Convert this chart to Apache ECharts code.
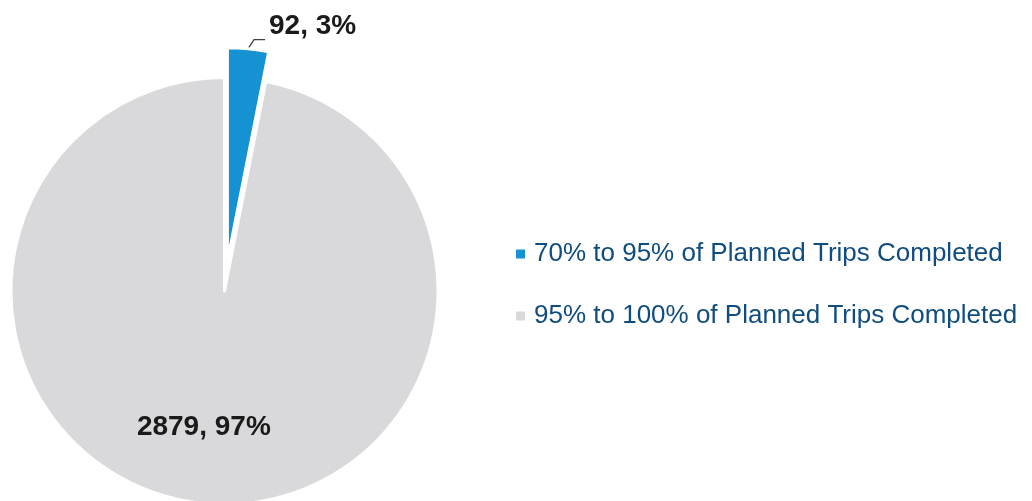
<!DOCTYPE html>
<html>
<head>
<meta charset="utf-8">
<script src="https://cdn.jsdelivr.net/npm/echarts@6/dist/echarts.min.js"></script>
<style>
  html, body { margin: 0; padding: 0; background: #ffffff; }
  #chart { width: 1032px; height: 501px; }
</style>
</head>
<body>
<div id="chart"></div>
<script>
// Trip completion buckets and the number of trips in each
const categories = [
  '70% to 95% of Planned Trips Completed',
  '95% to 100% of Planned Trips Completed'
];
const tripCounts = [92, 2879];
const sliceColors = ['#1592d1', '#d9d9db'];

const FONT = '"Liberation Sans", Arial, Helvetica, sans-serif';

const chart = echarts.init(document.getElementById('chart'), null, { renderer: 'canvas' });

const pieData = categories.map((name, i) => ({
  name: name,
  value: tripCounts[i],
  selected: i === 0,
  itemStyle: { color: sliceColors[i] },
  label: i === 0
    ? { position: 'outside' }
    : { position: 'inside', offset: [-10, 27] },
  labelLine: { show: i === 0 }
}));

chart.setOption({
  animation: false,
  backgroundColor: '#ffffff',
  legend: {
    orient: 'vertical',
    left: 511,
    top: 236,
    icon: 'rect',
    itemWidth: 9,
    itemHeight: 9,
    itemGap: 36,
    selectedMode: false,
    itemStyle: { borderWidth: 0 },
    textStyle: {
      fontFamily: FONT,
      fontSize: 26,
      color: '#0f4c81',
      padding: [0, 0, 0, 4]
    },
    data: categories
  },
  series: [{
    type: 'pie',
    center: [224.5, 291],
    radius: [0, 213.5],
    startAngle: 90,
    clockwise: true,
    selectedMode: 'single',
    selectedOffset: 30,
    avoidLabelOverlap: false,
    percentPrecision: 0,
    itemStyle: { borderColor: '#ffffff', borderWidth: 3 },
    emphasis: { disabled: true },
    label: {
      show: true,
      formatter: '{c}, {d}%',
      fontFamily: FONT,
      fontSize: 28,
      fontWeight: 'bold',
      color: '#1a1a1a'
    },
    labelLine: {
      length: 9,
      length2: 16,
      smooth: false,
      lineStyle: { color: '#404040', width: 1.3 }
    },
    // lean the first leader segment to the right and lift the outside label above the elbow
    labelLayout: function (params) {
      if (params.dataIndex !== 0 || !params.labelLinePoints) return {};
      const pts = params.labelLinePoints.map(p => p.slice());
      pts[1][0] += 5;
      return { labelLinePoints: pts, dx: -1, dy: -13 };
    },
    data: pieData
  }]
});
</script>
</body>
</html>
